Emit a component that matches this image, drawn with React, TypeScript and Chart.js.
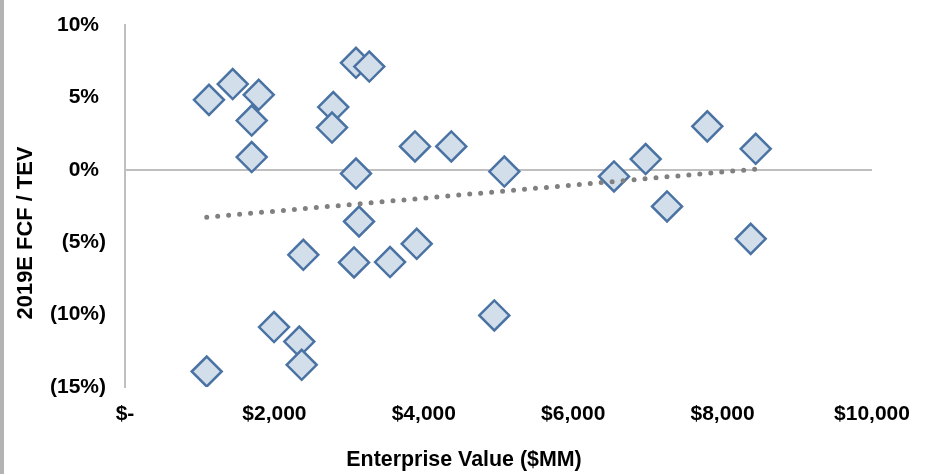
import { useEffect, useRef } from "react";
import { Chart, registerables } from "chart.js";

Chart.register(...registerables);

// Enterprise value ($MM) per company
const enterpriseValue = [
  1124, 1442, 1790, 1696, 1696, 2788, 2771, 3092, 3270, 3092,
  3882, 4368, 5078, 6546, 6970, 7795, 8443, 7256, 8376, 3133,
  2387, 3066, 3548, 3905, 4944, 1995, 2333, 2365, 1094,
];

// 2019E free cash flow / TEV, in percent
const fcfYield = [
  4.83, 5.92, 5.18, 3.4, 0.88, 4.33, 2.92, 7.39, 7.13, -0.26,
  1.61, 1.61, -0.12, -0.46, 0.74, 3.0, 1.45, -2.53, -4.77, -3.57,
  -5.87, -6.4, -6.37, -5.11, -10.06, -10.86, -11.86, -13.47, -13.93,
];

// Linear trend line end points
const trendX = [1094, 8443];
const trendY = [-3.27, 0.05];

const xTickLabels = ["$-", "$2,000", "$4,000", "$6,000", "$8,000", "$10,000"];
const yTickLabels = ["(15%)", "(10%)", "(5%)", "0%\u2004", "5%\u2004", "10%\u2004"];

const xTitle = "Enterprise Value ($MM)";
const yTitle = "2019E FCF / TEV";

const FONT = "'Liberation Sans', Arial, Helvetica, sans-serif";

const frameAndTitles = {
  id: "frameAndTitles",
  beforeDraw(chart: any) {
    const { ctx, height } = chart;
    ctx.save();
    ctx.fillStyle = "#ffffff";
    ctx.fillRect(0, 0, chart.width, height);
    ctx.fillStyle = "#b3b3b3";
    ctx.fillRect(0, 0, 4, height);
    ctx.restore();
  },
  afterDraw(chart: any) {
    const { ctx } = chart;
    ctx.save();
    ctx.fillStyle = "#000000";
    ctx.textAlign = "center";
    ctx.textBaseline = "middle";
    ctx.font = `bold 21.4px ${FONT}`;
    ctx.fillText(xTitle, 464, 460);
    ctx.font = `bold 21.9px ${FONT}`;
    ctx.translate(26, 233);
    ctx.rotate(-Math.PI / 2);
    ctx.fillText(yTitle, 0, 0);
    ctx.restore();
  },
};

export default function App() {
  const canvasRef = useRef<HTMLCanvasElement | null>(null);

  useEffect(() => {
    const canvas = canvasRef.current;
    if (!canvas) return;

    const points = enterpriseValue.map((x, i) => ({ x, y: fcfYield[i] }));
    const trend = trendX.map((x, i) => ({ x, y: trendY[i] }));

    const chart = new Chart(canvas, {
      type: "scatter",
      data: {
        datasets: [
          {
            type: "line",
            data: trend,
            order: 0,
            showLine: true,
            borderColor: "#808080",
            borderWidth: 5,
            borderDash: [0, 11],
            borderCapStyle: "round",
            pointRadius: 0,
            fill: false,
          } as any,
          {
            data: points,
            order: 1,
            pointStyle: "rectRot",
            pointRadius: 15,
            pointHoverRadius: 15,
            pointBorderWidth: 2.5,
            pointBackgroundColor: "#d2dfeb",
            pointBorderColor: "#4a73a4",
          },
        ],
      },
      options: {
        animation: false,
        responsive: false,
        events: [],
        layout: { padding: { top: 25, right: 53, bottom: 0, left: 0 } },
        plugins: {
          legend: { display: false },
          tooltip: { enabled: false },
          title: { display: false },
        },
        scales: {
          x: {
            type: "linear",
            min: 0,
            max: 10000,
            afterFit: (s: any) => {
              s.height = 87;
              s.paddingLeft = 0;
              s.paddingRight = 0;
            },
            afterBuildTicks: (s: any) => {
              s.ticks = xTickLabels.map((_, i) => ({ value: i * 2000 }));
            },
            grid: { display: false, drawTicks: false },
            border: { display: false },
            ticks: {
              padding: 15,
              maxRotation: 0,
              autoSkip: false,
              color: "#000000",
              font: { family: FONT, size: 21, weight: "bold" },
              callback: (_v: any, i: number) => xTickLabels[i],
            },
          },
          y: {
            type: "linear",
            min: -15,
            max: 10,
            afterFit: (s: any) => {
              s.width = 125;
              s.paddingTop = 0;
              s.paddingBottom = 0;
            },
            afterBuildTicks: (s: any) => {
              s.ticks = yTickLabels.map((_, i) => ({ value: -15 + i * 5 }));
            },
            grid: {
              drawTicks: false,
              lineWidth: 2,
              color: (c: any) => (c.tick && c.tick.value === 0 ? "#bfbfbf" : "rgba(0,0,0,0)"),
            },
            border: { display: true, color: "#bfbfbf", width: 2 },
            ticks: {
              padding: 19,
              autoSkip: false,
              color: "#000000",
              font: { family: FONT, size: 21, weight: "bold" },
              callback: (_v: any, i: number) => yTickLabels[i],
            },
          },
        },
      },
      plugins: [frameAndTitles],
    });

    return () => chart.destroy();
  }, []);

  return (
    <div style={{ position: "fixed", left: 0, top: 0, width: 925, height: 474, background: "#fff" }}>
      <canvas ref={canvasRef} width={925} height={474} />
    </div>
  );
}
